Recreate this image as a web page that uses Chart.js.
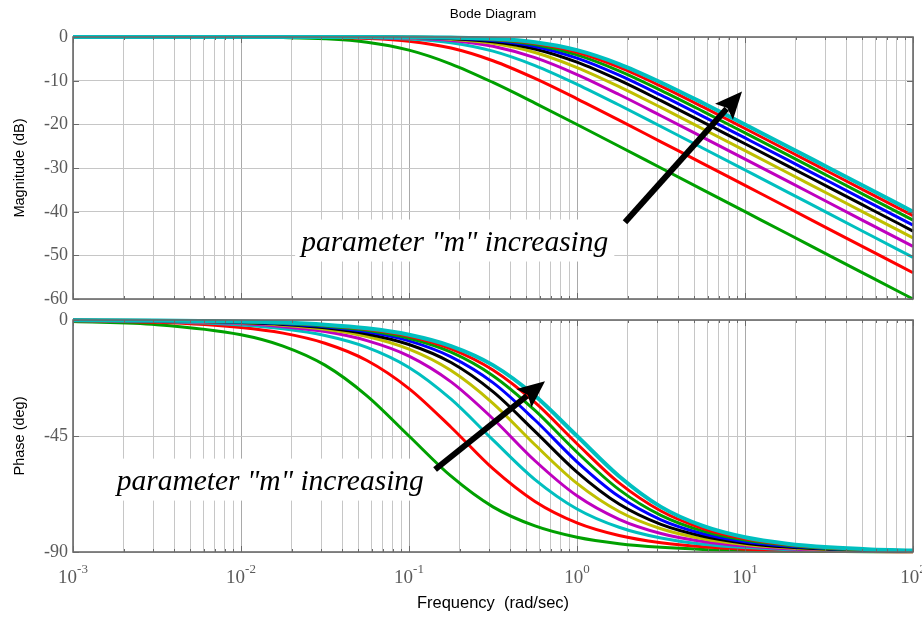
<!DOCTYPE html>
<html><head><meta charset="utf-8">
<script src="https://cdn.jsdelivr.net/npm/chart.js@4.4.1/dist/chart.umd.min.js"></script>
<style>
html,body{margin:0;padding:0;background:#fff;}
#wrap{position:relative;width:922px;height:620px;overflow:hidden;}
canvas{position:absolute;left:0;}
</style></head><body>
<div id="wrap">
<canvas id="mag" width="922" height="310" style="top:0"></canvas>
<canvas id="pha" width="922" height="310" style="top:310px"></canvas>
</div>
<script>
// ---------- data ----------
const freqs = [0.001, 0.00316, 0.01, 0.0178, 0.0316, 0.0562, 0.1, 0.178, 0.316, 0.562, 1, 1.78, 3.16, 5.62, 10, 17.8, 31.6, 56.2, 100];
const seriesColors = ['#00a000','#ff0000','#00bfbf','#bf00bf','#bfbf00','#000000','#0000ff','#00a000','#ff0000','#00bfbf'];

const mag1  = [0, 0, -0.04, -0.13, -0.41, -1.19, -3.01, -6.19, -10.41, -15.13, -20.04, -25.01, -30.0, -35.0, -40.0, -45.0, -50.0, -55.0, -60.0];
const mag2  = [0, 0, -0.01, -0.03, -0.11, -0.33, -0.97, -2.53, -5.44, -9.49, -14.15, -19.03, -24.0, -28.98, -33.98, -38.98, -43.98, -48.98, -53.98];
const mag3  = [0, 0, -0.01, -0.02, -0.05, -0.15, -0.46, -1.31, -3.24, -6.54, -10.83, -15.58, -20.5, -25.47, -30.46, -35.46, -40.46, -45.46, -50.46];
const mag4  = [0, 0, 0, -0.01, -0.03, -0.09, -0.26, -0.78, -2.11, -4.74, -8.6, -13.17, -18.03, -22.98, -27.96, -32.96, -37.96, -42.96, -47.96];
const mag5  = [0, 0, 0, -0.01, -0.02, -0.06, -0.17, -0.52, -1.46, -3.55, -6.99, -11.35, -16.13, -21.06, -26.03, -31.03, -36.02, -41.02, -46.02];
const mag6  = [0, 0, 0, 0, -0.01, -0.04, -0.12, -0.37, -1.07, -2.74, -5.77, -9.9, -14.59, -19.48, -24.45, -29.44, -34.44, -39.44, -44.44];
const mag7  = [0, 0, 0, 0, -0.01, -0.03, -0.09, -0.27, -0.81, -2.16, -4.83, -8.72, -13.31, -18.16, -23.12, -28.1, -33.1, -38.1, -43.1];
const mag8  = [0, 0, 0, 0, -0.01, -0.02, -0.07, -0.21, -0.63, -1.74, -4.09, -7.74, -12.21, -17.02, -21.97, -26.95, -31.94, -36.94, -41.94];
const mag9  = [0, 0, 0, 0, 0, -0.02, -0.05, -0.17, -0.51, -1.43, -3.49, -6.91, -11.25, -16.02, -20.95, -25.93, -30.92, -35.92, -40.92];
const mag10 = [0, 0, 0, 0, 0, -0.01, -0.04, -0.14, -0.41, -1.19, -3.01, -6.19, -10.41, -15.13, -20.04, -25.01, -30.0, -35.0, -40.0];

const phase1  = [-0.6, -1.8, -5.7, -10.1, -17.5, -29.4, -45.0, -60.6, -72.5, -79.9, -84.3, -86.8, -88.2, -89.0, -89.4, -89.7, -89.8, -89.9, -89.9];
const phase2  = [-0.3, -0.9, -2.9, -5.1, -9.0, -15.7, -26.6, -41.6, -57.7, -70.4, -78.7, -83.6, -86.4, -88.0, -88.9, -89.4, -89.6, -89.8, -89.9];
const phase3  = [-0.2, -0.6, -1.9, -3.4, -6.0, -10.6, -18.4, -30.7, -46.5, -61.9, -73.3, -80.4, -84.6, -87.0, -88.3, -89.0, -89.5, -89.7, -89.8];
const phase4  = [-0.1, -0.5, -1.4, -2.6, -4.5, -8.0, -14.0, -24.0, -38.3, -54.6, -68.2, -77.3, -82.8, -85.9, -87.7, -88.7, -89.3, -89.6, -89.8];
const phase5  = [-0.1, -0.4, -1.1, -2.0, -3.6, -6.4, -11.3, -19.6, -32.3, -48.4, -63.4, -74.3, -81.0, -84.9, -87.1, -88.4, -89.1, -89.5, -89.7];
const phase6  = [-0.1, -0.3, -1.0, -1.7, -3.0, -5.4, -9.5, -16.5, -27.8, -43.2, -59.0, -71.4, -79.3, -83.9, -86.6, -88.1, -88.9, -89.4, -89.7];
const phase7  = [-0.1, -0.3, -0.8, -1.5, -2.6, -4.6, -8.1, -14.3, -24.3, -38.8, -55.0, -68.5, -77.5, -82.9, -86.0, -87.7, -88.7, -89.3, -89.6];
const phase8  = [-0.1, -0.2, -0.7, -1.3, -2.3, -4.0, -7.1, -12.5, -21.6, -35.1, -51.3, -65.8, -75.8, -81.9, -85.4, -87.4, -88.6, -89.2, -89.5];
const phase9  = [-0.1, -0.2, -0.6, -1.1, -2.0, -3.6, -6.3, -11.2, -19.4, -32.0, -48.0, -63.2, -74.1, -80.9, -84.9, -87.1, -88.4, -89.1, -89.5];
const phase10 = [-0.1, -0.2, -0.6, -1.0, -1.8, -3.2, -5.7, -10.1, -17.5, -29.4, -45.0, -60.6, -72.5, -79.9, -84.3, -86.8, -88.2, -89.0, -89.4];

const magSeries = [mag1, mag2, mag3, mag4, mag5, mag6, mag7, mag8, mag9, mag10];
const phaseSeries = [phase1, phase2, phase3, phase4, phase5, phase6, phase7, phase8, phase9, phase10];

const decadeTicks = [0.001, 0.01, 0.1, 1, 10, 100];
const minorMultipliers = [1, 2, 3, 4, 5, 6, 7, 8, 9];
const magTicks = [0, -10, -20, -30, -40, -50, -60];
const phaseTicks = [0, -45, -90];

const titleText = 'Bode Diagram';
const magLabel = 'Magnitude (dB)';
const phaseLabel = 'Phase (deg)';
const xLabel = 'Frequency  (rad/sec)';
const noteText = 'parameter "m" increasing';
// annotation anchors in data units [frequency, value]
const magNote = { text: [0.0228, -48.9], tail: [1.93, -42.4], tip: [9.6, -12.5] };
const phaseNote = { text: [0.00182, -65.8], tail: [0.143, -58.0], tip: [0.645, -23.8] };

// ---------- helpers ----------
const W = 922, H = 310;
const GRID_MINOR = '#c6c6c6', GRID_MAJOR = '#a9a9a9', FRAME = '#6a6a6a', TICKTXT = '#5a5a5a';
function isMajor(v){ const l = Math.log10(v); return Math.abs(l - Math.round(l)) < 1e-6; }
function xTickList(){
  const t = [];
  decadeTicks.forEach(d => minorMultipliers.forEach(m => { const v = d * m; if (v <= 100.0001) t.push({ value: v }); }));
  return t;
}
function datasetsFor(series){
  return series.map((ys, i) => ({
    data: freqs.map((f, j) => ({ x: f, y: ys[j] })),
    borderColor: seriesColors[i],
    backgroundColor: seriesColors[i],
    borderWidth: i === series.length - 1 ? 4 : 3,
    pointRadius: 0,
    cubicInterpolationMode: 'monotone',
    fill: false,
    clip: 4,
    order: series.length - i
  }));
}
function drawArrow(ctx, x0, y0, x1, y1){
  const a = Math.atan2(y1 - y0, x1 - x0), hl = 27, hw = 12;
  const bx = x1 - hl * Math.cos(a), by = y1 - hl * Math.sin(a);
  ctx.save();
  ctx.strokeStyle = '#000'; ctx.lineWidth = 6; ctx.lineCap = 'butt';
  ctx.beginPath(); ctx.moveTo(x0, y0); ctx.lineTo(bx + 4*Math.cos(a), by + 4*Math.sin(a)); ctx.stroke();
  ctx.fillStyle = '#000';
  ctx.beginPath(); ctx.moveTo(x1, y1);
  ctx.lineTo(bx + hw * Math.sin(a), by - hw * Math.cos(a));
  ctx.lineTo(bx + 5 * Math.cos(a), by + 5 * Math.sin(a));
  ctx.lineTo(bx - hw * Math.sin(a), by + hw * Math.cos(a));
  ctx.closePath(); ctx.fill();
  ctx.restore();
}
const NOTE_FONT = "italic 29.5px 'Liberation Serif', 'Times New Roman', serif";
const SANS = "'Liberation Sans', Arial, sans-serif";
const SERIF = "'Liberation Serif', 'Times New Roman', serif";

function makePlugin(opts){
  return {
    id: 'deco' + opts.name,
    beforeDatasetsDraw(chart){
      const ctx = chart.ctx, xs = chart.scales.x, ys = chart.scales.y;
      const tx = xs.getPixelForValue(opts.note.text[0]), ty = ys.getPixelForValue(opts.note.text[1]);
      ctx.save(); ctx.font = NOTE_FONT;
      const w = ctx.measureText(noteText).width;
      ctx.fillStyle = '#fff';
      ctx.fillRect(tx - 6, ty - 31, w + 12, 42);
      ctx.restore();
    },
    afterDatasetsDraw(chart){
      const ctx = chart.ctx, xs = chart.scales.x, ys = chart.scales.y;
      const tx = xs.getPixelForValue(opts.note.text[0]), ty = ys.getPixelForValue(opts.note.text[1]);
      ctx.save();
      ctx.font = NOTE_FONT; ctx.fillStyle = '#000'; ctx.textAlign = 'left'; ctx.textBaseline = 'alphabetic';
      ctx.fillText(noteText, tx, ty);
      ctx.restore();
      drawArrow(ctx, xs.getPixelForValue(opts.note.tail[0]), ys.getPixelForValue(opts.note.tail[1]),
                     xs.getPixelForValue(opts.note.tip[0]), ys.getPixelForValue(opts.note.tip[1]));
    },
    afterDraw(chart){
      const ctx = chart.ctx, ca = chart.chartArea, xs = chart.scales.x, ys = chart.scales.y;
      ctx.save();
      // frame
      ctx.strokeStyle = FRAME; ctx.lineWidth = 1.6;
      ctx.strokeRect(ca.left, ca.top, ca.right - ca.left, ca.bottom - ca.top);
      // x ticks inside top & bottom
      ctx.lineWidth = 1;
      xTickList().forEach(t => {
        const px = Math.round(xs.getPixelForValue(t.value)) + 0.5;
        const len = isMajor(t.value) ? 6 : 3;
        ctx.beginPath();
        ctx.moveTo(px, ca.top); ctx.lineTo(px, ca.top + len);
        ctx.moveTo(px, ca.bottom); ctx.lineTo(px, ca.bottom - len);
        ctx.stroke();
      });
      // y ticks + labels
      ctx.font = "18px " + SERIF;
      ctx.fillStyle = TICKTXT; ctx.textAlign = 'right'; ctx.textBaseline = 'middle';
      opts.yTicks.forEach(v => {
        const py = Math.round(ys.getPixelForValue(v)) + 0.5;
        ctx.beginPath();
        ctx.moveTo(ca.left, py); ctx.lineTo(ca.left + 6, py);
        ctx.moveTo(ca.right, py); ctx.lineTo(ca.right - 6, py);
        ctx.stroke();
        ctx.fillText(String(v), ca.left - 5, py);
      });
      // y axis title
      ctx.save();
      ctx.translate(20, (ca.top + ca.bottom) / 2);
      ctx.rotate(-Math.PI / 2);
      ctx.font = "14.5px " + SANS;
      ctx.fillStyle = '#000'; ctx.textAlign = 'center'; ctx.textBaseline = 'middle';
      ctx.fillText(opts.yLabel, 0, 0);
      ctx.restore();
      const cx = (ca.left + ca.right) / 2;
      if (opts.title) {
        ctx.font = "13.5px " + SANS;
        ctx.fillStyle = '#000'; ctx.textAlign = 'center'; ctx.textBaseline = 'middle';
        ctx.fillText(titleText, cx, 14);
      }
      if (opts.xLabels) {
        decadeTicks.forEach(v => {
          const px = xs.getPixelForValue(v);
          const ex = String(Math.round(Math.log10(v)));
          ctx.font = "19px " + SERIF;
          const w1 = ctx.measureText('10').width;
          ctx.font = "13px " + SERIF;
          const w2 = ctx.measureText(ex).width;
          const s = px - (w1 + w2) / 2;
          ctx.fillStyle = TICKTXT; ctx.textAlign = 'left'; ctx.textBaseline = 'alphabetic';
          ctx.font = "19px " + SERIF;
          ctx.fillText('10', s, ca.bottom + 31);
          ctx.font = "13px " + SERIF;
          ctx.fillText(ex, s + w1, ca.bottom + 21);
        });
        ctx.font = "16.5px " + SANS;
        ctx.fillStyle = '#000'; ctx.textAlign = 'center'; ctx.textBaseline = 'middle';
        ctx.fillText(xLabel, cx, ca.bottom + 51);
      }
      ctx.restore();
    }
  };
}

function makeChart(id, series, yMin, yMax, yTicks, padTop, xHeight, plugin){
  return new Chart(document.getElementById(id), {
    type: 'line',
    data: { datasets: datasetsFor(series) },
    options: {
      responsive: false, animation: false, devicePixelRatio: 1,
      layout: { padding: { left: 0, right: 9, top: padTop, bottom: 0 } },
      plugins: { legend: { display: false }, tooltip: { enabled: false }, title: { display: false } },
      scales: {
        x: {
          type: 'logarithmic', min: 0.001, max: 100,
          afterBuildTicks: s => { s.ticks = xTickList(); },
          ticks: { display: false },
          grid: { color: c => (c.tick && isMajor(c.tick.value)) ? GRID_MAJOR : GRID_MINOR, lineWidth: 1, drawTicks: false },
          border: { display: false },
          afterFit: s => { s.height = xHeight; }
        },
        y: {
          min: yMin, max: yMax,
          afterBuildTicks: s => { s.ticks = yTicks.map(v => ({ value: v })); },
          ticks: { display: false },
          grid: { color: GRID_MINOR, lineWidth: 1, drawTicks: false },
          border: { display: false },
          afterFit: s => { s.width = 73; }
        }
      }
    },
    plugins: [plugin]
  });
}

makeChart('mag', magSeries, -60, 0, magTicks, 37, H - 299,
  makePlugin({ name: 'mag', note: magNote, yTicks: magTicks, yLabel: magLabel, title: true, xLabels: false }));
makeChart('pha', phaseSeries, -90, 0, phaseTicks, 10, H - 242,
  makePlugin({ name: 'pha', note: phaseNote, yTicks: phaseTicks, yLabel: phaseLabel, title: false, xLabels: true }));
</script>
</body></html>
